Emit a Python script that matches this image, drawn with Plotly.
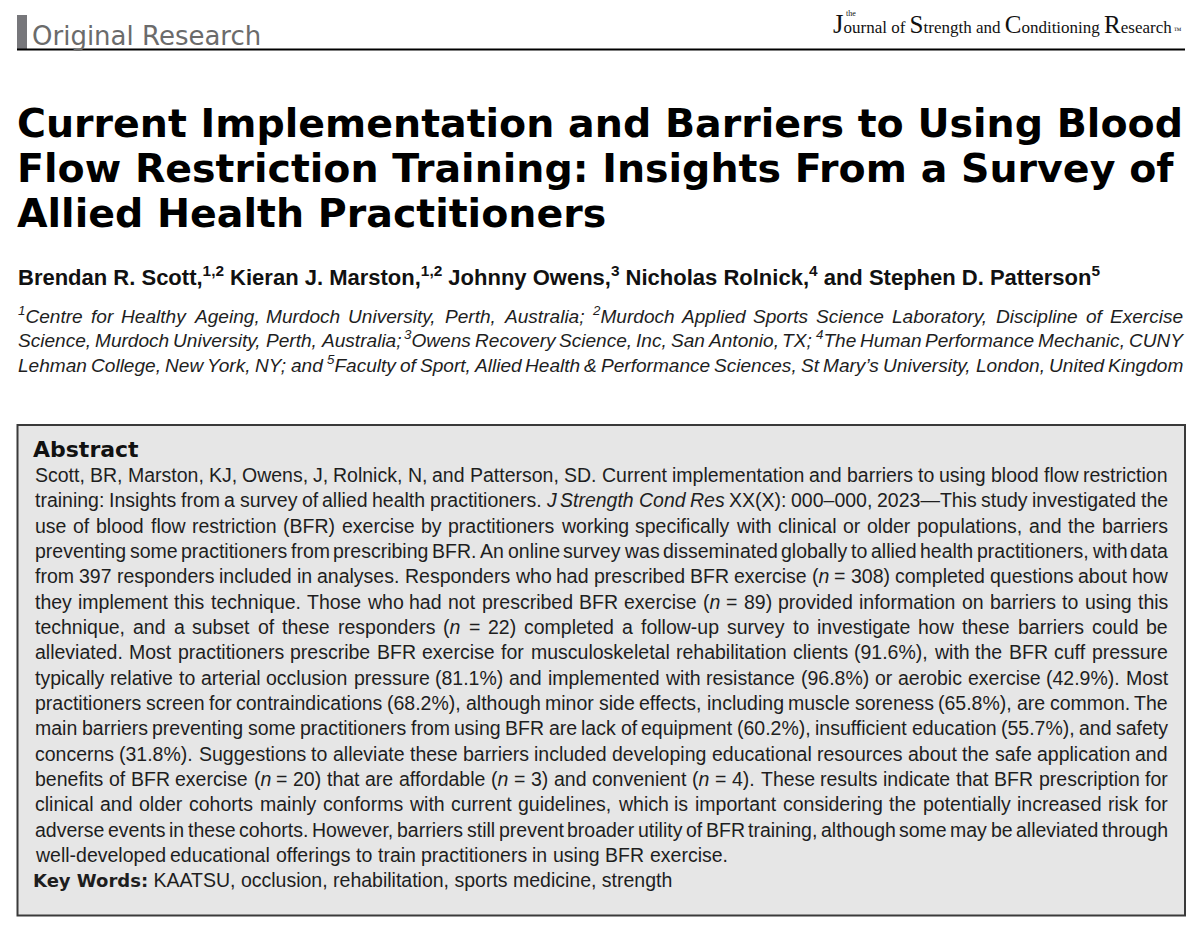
import re
import plotly.graph_objects as go

# ---------------- content ----------------
HEADER_LABEL = "Original Research"
JOURNAL_SMALL = "the"
JOURNAL_WORDS = ["Journal", "of", "Strength", "and", "Conditioning", "Research"]
JOURNAL_MARK = "™"

TITLE_LINES = [
    "Current Implementation and Barriers to Using Blood",
    "Flow Restriction Training: Insights From a Survey of",
    "Allied Health Practitioners",
]

AUTHORS = ("Brendan R. Scott,<sup>1,2</sup> Kieran J. Marston,<sup>1,2</sup> Johnny Owens,<sup>3</sup> "
           "Nicholas Rolnick,<sup>4</sup> and Stephen D. Patterson<sup>5</sup>")

AFFILIATION_LINES = [
    "<sup>1</sup>Centre for Healthy Ageing, Murdoch University, Perth, Australia; <sup>2</sup>Murdoch Applied Sports Science Laboratory, Discipline of Exercise",
    "Science, Murdoch University, Perth, Australia; <sup>3</sup>Owens Recovery Science, Inc, San Antonio, TX; <sup>4</sup>The Human Performance Mechanic, CUNY",
    "Lehman College, New York, NY; and <sup>5</sup>Faculty of Sport, Allied Health & Performance Sciences, St Mary’s University, London, United Kingdom",
]

ABSTRACT_HEADING = "Abstract"
ABSTRACT_LINES = [
    "Scott, BR, Marston, KJ, Owens, J, Rolnick, N, and Patterson, SD. Current implementation and barriers to using blood flow restriction",
    "training: Insights from a survey of allied health practitioners. <i>J Strength Cond Res</i> XX(X): 000–000, 2023—This study investigated the",
    "use of blood flow restriction (BFR) exercise by practitioners working specifically with clinical or older populations, and the barriers",
    "preventing some practitioners from prescribing BFR. An online survey was disseminated globally to allied health practitioners, with data",
    "from 397 responders included in analyses. Responders who had prescribed BFR exercise (<i>n</i> = 308) completed questions about how",
    "they implement this technique. Those who had not prescribed BFR exercise (<i>n</i> = 89) provided information on barriers to using this",
    "technique, and a subset of these responders (<i>n</i> = 22) completed a follow-up survey to investigate how these barriers could be",
    "alleviated. Most practitioners prescribe BFR exercise for musculoskeletal rehabilitation clients (91.6%), with the BFR cuff pressure",
    "typically relative to arterial occlusion pressure (81.1%) and implemented with resistance (96.8%) or aerobic exercise (42.9%). Most",
    "practitioners screen for contraindications (68.2%), although minor side effects, including muscle soreness (65.8%), are common. The",
    "main barriers preventing some practitioners from using BFR are lack of equipment (60.2%), insufficient education (55.7%), and safety",
    "concerns (31.8%). Suggestions to alleviate these barriers included developing educational resources about the safe application and",
    "benefits of BFR exercise (<i>n</i> = 20) that are affordable (<i>n</i> = 3) and convenient (<i>n</i> = 4). These results indicate that BFR prescription for",
    "clinical and older cohorts mainly conforms with current guidelines, which is important considering the potentially increased risk for",
    "adverse events in these cohorts. However, barriers still prevent broader utility of BFR training, although some may be alleviated through",
    "well-developed educational offerings to train practitioners in using BFR exercise.",
]

KEYWORDS_LABEL = "Key Words:"
KEYWORDS = "KAATSU, occlusion, rehabilitation, sports medicine, strength"

# ---------------- font metrics (Arial / Liberation Sans, per 1000 em) ----------------
_REG = [278, 278, 355, 556, 556, 889, 667, 191, 333, 333, 389, 584, 278, 333, 278, 278,
        556, 556, 556, 556, 556, 556, 556, 556, 556, 556, 278, 278, 584, 584, 584, 556, 1015,
        667, 667, 722, 722, 667, 611, 778, 722, 278, 500, 667, 556, 833, 722, 778, 667, 778,
        722, 667, 611, 722, 667, 944, 667, 667, 611, 278, 278, 278, 469, 556, 333,
        556, 556, 500, 556, 556, 278, 556, 556, 222, 222, 500, 222, 833, 556, 556, 556, 556,
        333, 500, 278, 556, 500, 722, 500, 500, 500, 334, 260, 334, 584]
_BOLD = [278, 333, 474, 556, 556, 889, 722, 238, 333, 333, 389, 584, 278, 333, 278, 278,
         556, 556, 556, 556, 556, 556, 556, 556, 556, 556, 333, 333, 584, 584, 584, 611, 975,
         722, 722, 722, 722, 667, 611, 778, 722, 278, 556, 722, 611, 833, 722, 778, 667, 778,
         722, 667, 611, 722, 667, 944, 667, 667, 611, 333, 278, 333, 584, 556, 333,
         556, 611, 556, 611, 556, 333, 611, 611, 278, 278, 556, 278, 889, 611, 611, 611, 611,
         389, 556, 333, 611, 556, 778, 556, 556, 500, 389, 280, 389, 584]
REG = {chr(32 + i): w for i, w in enumerate(_REG)}
BOLD = {chr(32 + i): w for i, w in enumerate(_BOLD)}
for tbl, extra in ((REG, {"–": 556, "—": 1000, "’": 222}), (BOLD, {"–": 556, "—": 1000, "’": 278})):
    tbl.update(extra)

SANS = "Liberation Sans, Arial, sans-serif"
HEAVY = "DejaVu Sans, sans-serif"
SERIF = "Liberation Serif, Times New Roman, serif"
TEXT_COLOR = "#1e1e1e"
DESC_SANS = 0.212
DESC_DEJAVU = 0.236

# the page body has an 8px margin; axis ranges are shifted so that
# axis units equal screen pixels of the 1200x931 window
PAGE_OFFSET = 8

annotations = []


def units(word, table):
    total, scale = 0.0, 1.0
    for tok in re.split(r"(<[^>]+>)", word):
        if tok.startswith("<"):
            if tok == "<sup>":
                scale = 0.7
            elif tok == "</sup>":
                scale = 1.0
            continue
        total += sum(table.get(ch, 556) for ch in tok) * scale
    return total / 1000.0


def split_words(text, all_italic=False):
    words, italic = [], all_italic
    for raw in text.split(" "):
        w = raw
        start_italic = italic
        if "<i>" in raw:
            italic = True
        if "</i>" in raw:
            italic = False
        if all_italic:
            w = "<i>" + w + "</i>"
        else:
            if start_italic and not raw.startswith("<i>"):
                w = "<i>" + w
            if italic and "</i>" not in w:
                w = w + "</i>"
        words.append(w)
    return words


def add_text(x, baseline, text, size, family, color=TEXT_COLOR, desc=DESC_SANS, weight="normal"):
    annotations.append(dict(
        x=x, y=baseline + desc * size, xref="x", yref="y", text=text, showarrow=False,
        xanchor="left", yanchor="bottom", borderpad=0, borderwidth=0,
        font=dict(family=family, size=size, color=color, weight=weight)))


def fit_size(lines, width, target, table, all_italic=False, min_gap=0.16):
    fs = target
    for line in lines:
        ws = split_words(line, all_italic)
        u = sum(units(w, table) for w in ws)
        gaps = len(ws) - 1
        fs = min(fs, width / (u + min_gap * gaps))
    return fs


def place_line(text, x0, x1, baseline, size, table, justify=True, all_italic=False):
    ws = split_words(text, all_italic)
    widths = [units(w, table) * size for w in ws]
    if justify and len(ws) > 1:
        gap = (x1 - x0 - sum(widths)) / (len(ws) - 1)
    else:
        gap = table[" "] / 1000.0 * size
    x = x0
    for w, wd in zip(ws, widths):
        add_text(x, baseline, w, size, SANS)
        x += wd + gap


# ---------------- header ----------------
add_text(32, 45, HEADER_LABEL, 26, HEAVY, color="#6b6b6b", desc=DESC_DEJAVU)

logo = []
for w in JOURNAL_WORDS:
    if w[0].isupper():
        big = 27 if w[0] == "J" else 25
        logo.append('<span style="font-size:%dpx">%s</span>%s' % (big, w[0], w[1:]))
    else:
        logo.append(w)
logo_text = " ".join(logo) + '<span style="font-size:8px"> %s</span>' % JOURNAL_MARK
annotations.append(dict(x=832, y=34 + 0.216 * 27, xref="x", yref="y", text=logo_text, showarrow=False,
                        xanchor="left", yanchor="bottom", borderpad=0,
                        font=dict(family=SERIF, size=17, color="#111111")))
annotations.append(dict(x=845, y=19, xref="x", yref="y", text=JOURNAL_SMALL, showarrow=False,
                        xanchor="left", yanchor="bottom", borderpad=0,
                        font=dict(family=SERIF, size=8, color="#111111")))

# ---------------- title ----------------
for i, line in enumerate(TITLE_LINES):
    add_text(17, 137 + 44.7 * i, line, 39.5, HEAVY, color="#000000", desc=DESC_DEJAVU, weight="bold")

# ---------------- authors ----------------
auth_size = min(22.0, 1137.0 / units(AUTHORS, BOLD))
add_text(18, 285.5, AUTHORS, auth_size, SANS, color="#111111", weight="bold")

# ---------------- affiliations ----------------
aff_size = fit_size(AFFILIATION_LINES, 1183 - 18, 19.8, REG, all_italic=True, min_gap=0.2)
for i, line in enumerate(AFFILIATION_LINES):
    place_line(line, 18, 1183, 322.7 + 24.5 * i, aff_size, REG, justify=True, all_italic=True)

# ---------------- abstract ----------------
body_size = fit_size(ABSTRACT_LINES[:-1], 1168 - 35, 19.5, REG)
add_text(33, 457, ABSTRACT_HEADING, 22, HEAVY, color="#111111", desc=DESC_DEJAVU, weight="bold")
for i, line in enumerate(ABSTRACT_LINES):
    place_line(line, 35, 1168, 482 + 25.33 * i, body_size, REG, justify=(i < len(ABSTRACT_LINES) - 1))

kw_text = ('<b><span style="font-family:DejaVu Sans;font-size:18px">%s</span></b> %s'
           % (KEYWORDS_LABEL, KEYWORDS))
add_text(33, 887, kw_text, body_size, SANS, desc=DESC_DEJAVU * 18 / body_size)

# ---------------- shapes ----------------
shapes = [
    dict(type="rect", x0=17, x1=27, y0=15, y1=49, xref="x", yref="y",
         fillcolor="#77777b", line=dict(width=0), layer="below"),
    dict(type="line", x0=17, x1=1185, y0=49.5, y1=49.5, xref="x", yref="y",
         line=dict(color="#000000", width=2)),
    dict(type="rect", x0=17.5, x1=1185, y0=425, y1=915.5, xref="x", yref="y",
         fillcolor="#e6e6e6", line=dict(color="#3a3a3a", width=2), layer="below"),
]

fig = go.Figure()
fig.update_layout(
    width=1200, height=931,
    margin=dict(l=0, r=0, t=0, b=0),
    paper_bgcolor="white", plot_bgcolor="white",
    xaxis=dict(range=[PAGE_OFFSET, 1200 + PAGE_OFFSET], visible=False, fixedrange=True),
    yaxis=dict(range=[931 + PAGE_OFFSET, PAGE_OFFSET], visible=False, fixedrange=True),
    annotations=annotations,
    shapes=shapes,
    showlegend=False,
)
fig.write_html("out.html")
